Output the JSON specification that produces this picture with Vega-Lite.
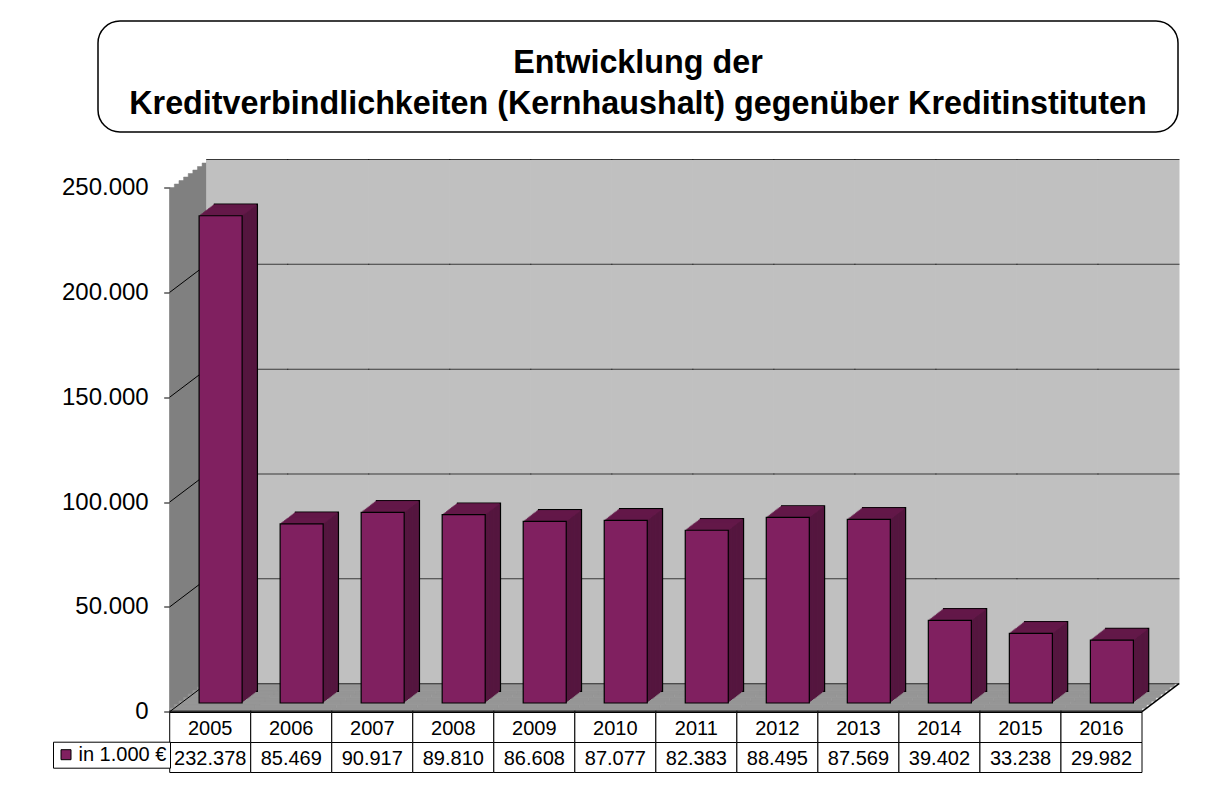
{
  "$schema": "https://vega.github.io/schema/vega-lite/v6.json",
  "background": "white",
  "padding": {"left": 52, "top": 20, "right": 5, "bottom": 5},
  "config": {
    "font": "Liberation Sans",
    "view": {"stroke": null},
    "locale": {"number": {"decimal": ",", "thousands": ".", "grouping": [3], "currency": ["", " €"]}}
  },
  "data": {"values": [
    {"year": "2005", "value": 232378, "series": "in 1.000 €"},
    {"year": "2006", "value": 85469, "series": "in 1.000 €"},
    {"year": "2007", "value": 90917, "series": "in 1.000 €"},
    {"year": "2008", "value": 89810, "series": "in 1.000 €"},
    {"year": "2009", "value": 86608, "series": "in 1.000 €"},
    {"year": "2010", "value": 87077, "series": "in 1.000 €"},
    {"year": "2011", "value": 82383, "series": "in 1.000 €"},
    {"year": "2012", "value": 88495, "series": "in 1.000 €"},
    {"year": "2013", "value": 87569, "series": "in 1.000 €"},
    {"year": "2014", "value": 39402, "series": "in 1.000 €"},
    {"year": "2015", "value": 33238, "series": "in 1.000 €"},
    {"year": "2016", "value": 29982, "series": "in 1.000 €"}
  ]},
  "spacing": 55.5,
  "bounds": "flush",
  "vconcat": [
    {
      "width": 1080,
      "height": 111,
      "view": {"stroke": "black", "strokeWidth": 1.5, "cornerRadius": 22, "fill": "white"},
      "data": {"values": [{"t": ["Entwicklung der", "Kreditverbindlichkeiten (Kernhaushalt) gegenüber Kreditinstituten"]}]},
      "mark": {"type": "text", "fontSize": 32.3, "fontWeight": "bold", "lineHeight": 41, "baseline": "middle", "align": "center", "dy": -13.5, "color": "black"},
      "encoding": {"text": {"field": "t"}}
    },
    {
      "spacing": 0,
      "bounds": "flush",
      "vconcat": [
        {
          "width": 1044,
          "height": 524.2,
          "encoding": {
            "x": {"field": "year", "type": "nominal", "axis": null,
                  "scale": {"domain": ["2005","2006","2007","2008","2009","2010","2011","2012","2013","2014","2015","2016"], "paddingInner": 0, "paddingOuter": 0.4425, "align": 1}}
          },
          "layer": [
            {"transform": [{"filter": "datum.year == '2005'"}], "mark": {"type": "rect", "fill": "#808080", "stroke": "#808080", "strokeWidth": 0.5, "xOffset": 0, "yOffset": 0, "y2Offset": 0}, "encoding": {"y": {"datum": 0, "type": "quantitative"}, "y2": {"datum": 250000}}},
            {"transform": [{"filter": "datum.year == '2005'"}], "mark": {"type": "rect", "fill": "#808080", "stroke": "#808080", "strokeWidth": 0.5, "xOffset": 4.625, "yOffset": -3.5, "y2Offset": -3.5}, "encoding": {"y": {"datum": 0, "type": "quantitative"}, "y2": {"datum": 250000}}},
            {"transform": [{"filter": "datum.year == '2005'"}], "mark": {"type": "rect", "fill": "#808080", "stroke": "#808080", "strokeWidth": 0.5, "xOffset": 9.25, "yOffset": -7, "y2Offset": -7}, "encoding": {"y": {"datum": 0, "type": "quantitative"}, "y2": {"datum": 250000}}},
            {"transform": [{"filter": "datum.year == '2005'"}], "mark": {"type": "rect", "fill": "#808080", "stroke": "#808080", "strokeWidth": 0.5, "xOffset": 13.875, "yOffset": -10.5, "y2Offset": -10.5}, "encoding": {"y": {"datum": 0, "type": "quantitative"}, "y2": {"datum": 250000}}},
            {"transform": [{"filter": "datum.year == '2005'"}], "mark": {"type": "rect", "fill": "#808080", "stroke": "#808080", "strokeWidth": 0.5, "xOffset": 18.5, "yOffset": -14, "y2Offset": -14}, "encoding": {"y": {"datum": 0, "type": "quantitative"}, "y2": {"datum": 250000}}},
            {"transform": [{"filter": "datum.year == '2005'"}], "mark": {"type": "rect", "fill": "#808080", "stroke": "#808080", "strokeWidth": 0.5, "xOffset": 23.125, "yOffset": -17.5, "y2Offset": -17.5}, "encoding": {"y": {"datum": 0, "type": "quantitative"}, "y2": {"datum": 250000}}},
            {"transform": [{"filter": "datum.year == '2005'"}], "mark": {"type": "rect", "fill": "#808080", "stroke": "#808080", "strokeWidth": 0.5, "xOffset": 27.75, "yOffset": -21, "y2Offset": -21}, "encoding": {"y": {"datum": 0, "type": "quantitative"}, "y2": {"datum": 250000}}},
            {"transform": [{"filter": "datum.year == '2005'"}], "mark": {"type": "rect", "fill": "#808080", "stroke": "#808080", "strokeWidth": 0.5, "xOffset": 32.375, "yOffset": -24.5, "y2Offset": -24.5}, "encoding": {"y": {"datum": 0, "type": "quantitative"}, "y2": {"datum": 250000}}},
            {"transform": [{"filter": "datum.year == '2005'"}], "mark": {"type": "rect", "fill": "#808080", "stroke": "#808080", "strokeWidth": 0.5, "xOffset": 37, "yOffset": -28, "y2Offset": -28}, "encoding": {"y": {"datum": 0, "type": "quantitative"}, "y2": {"datum": 250000}}},

            {"mark": {"type": "rect", "fill": "#c0c0c0", "stroke": "#c0c0c0", "strokeWidth": 1, "xOffset": 37, "yOffset": -28, "y2Offset": -28}, "encoding": {"y": {"datum": 0, "type": "quantitative"}, "y2": {"datum": 250000}}},

            {"mark": {"type": "rect", "fill": "#969696", "stroke": "#969696", "strokeWidth": 0.6, "xOffset": 0, "yOffset": 0, "y2Offset": 0}, "encoding": {"y": {"datum": 0, "type": "quantitative"}, "y2": {"datum": 1750}}},
            {"mark": {"type": "rect", "fill": "#969696", "stroke": "#969696", "strokeWidth": 0.6, "xOffset": 4.625, "yOffset": -3.5, "y2Offset": -3.5}, "encoding": {"y": {"datum": 0, "type": "quantitative"}, "y2": {"datum": 1750}}},
            {"mark": {"type": "rect", "fill": "#969696", "stroke": "#969696", "strokeWidth": 0.6, "xOffset": 9.25, "yOffset": -7, "y2Offset": -7}, "encoding": {"y": {"datum": 0, "type": "quantitative"}, "y2": {"datum": 1750}}},
            {"mark": {"type": "rect", "fill": "#969696", "stroke": "#969696", "strokeWidth": 0.6, "xOffset": 13.875, "yOffset": -10.5, "y2Offset": -10.5}, "encoding": {"y": {"datum": 0, "type": "quantitative"}, "y2": {"datum": 1750}}},
            {"mark": {"type": "rect", "fill": "#969696", "stroke": "#969696", "strokeWidth": 0.6, "xOffset": 18.5, "yOffset": -14, "y2Offset": -14}, "encoding": {"y": {"datum": 0, "type": "quantitative"}, "y2": {"datum": 1750}}},
            {"mark": {"type": "rect", "fill": "#969696", "stroke": "#969696", "strokeWidth": 0.6, "xOffset": 23.125, "yOffset": -17.5, "y2Offset": -17.5}, "encoding": {"y": {"datum": 0, "type": "quantitative"}, "y2": {"datum": 1750}}},
            {"mark": {"type": "rect", "fill": "#969696", "stroke": "#969696", "strokeWidth": 0.6, "xOffset": 27.75, "yOffset": -21, "y2Offset": -21}, "encoding": {"y": {"datum": 0, "type": "quantitative"}, "y2": {"datum": 1750}}},
            {"mark": {"type": "rect", "fill": "#969696", "stroke": "#969696", "strokeWidth": 0.6, "xOffset": 32.375, "yOffset": -24.5, "y2Offset": -24.5}, "encoding": {"y": {"datum": 0, "type": "quantitative"}, "y2": {"datum": 1750}}},

            {"mark": {"type": "tick", "orient": "horizontal", "size": 82, "thickness": 1, "color": "black", "xOffset": 37, "yOffset": -28}, "encoding": {"y": {"datum": 0, "type": "quantitative"}}},
            {"mark": {"type": "tick", "orient": "horizontal", "size": 82, "thickness": 1, "color": "black", "xOffset": 37, "yOffset": -28}, "encoding": {"y": {"datum": 50000, "type": "quantitative"}}},
            {"mark": {"type": "tick", "orient": "horizontal", "size": 82, "thickness": 1, "color": "black", "xOffset": 37, "yOffset": -28}, "encoding": {"y": {"datum": 100000, "type": "quantitative"}}},
            {"mark": {"type": "tick", "orient": "horizontal", "size": 82, "thickness": 1, "color": "black", "xOffset": 37, "yOffset": -28}, "encoding": {"y": {"datum": 150000, "type": "quantitative"}}},
            {"mark": {"type": "tick", "orient": "horizontal", "size": 82, "thickness": 1, "color": "black", "xOffset": 37, "yOffset": -28}, "encoding": {"y": {"datum": 200000, "type": "quantitative"}}},
            {"mark": {"type": "tick", "orient": "horizontal", "size": 82, "thickness": 1.2, "color": "black", "xOffset": 37, "yOffset": -28}, "encoding": {"y": {"datum": 250000, "type": "quantitative"}}},

            {"transform": [{"filter": "datum.year == '2005'"}], "mark": {"type": "rule", "color": "black", "strokeWidth": 1, "xOffset": -40.5, "x2Offset": -3.5, "y2Offset": -28}, "encoding": {"x2": {"field": "year"}, "y": {"datum": 0, "type": "quantitative"}, "y2": {"datum": 0}}},
            {"transform": [{"filter": "datum.year == '2005'"}], "mark": {"type": "rule", "color": "black", "strokeWidth": 1, "xOffset": -40.5, "x2Offset": -3.5, "y2Offset": -28}, "encoding": {"x2": {"field": "year"}, "y": {"datum": 50000, "type": "quantitative"}, "y2": {"datum": 50000}}},
            {"transform": [{"filter": "datum.year == '2005'"}], "mark": {"type": "rule", "color": "black", "strokeWidth": 1, "xOffset": -40.5, "x2Offset": -3.5, "y2Offset": -28}, "encoding": {"x2": {"field": "year"}, "y": {"datum": 100000, "type": "quantitative"}, "y2": {"datum": 100000}}},
            {"transform": [{"filter": "datum.year == '2005'"}], "mark": {"type": "rule", "color": "black", "strokeWidth": 1, "xOffset": -40.5, "x2Offset": -3.5, "y2Offset": -28}, "encoding": {"x2": {"field": "year"}, "y": {"datum": 150000, "type": "quantitative"}, "y2": {"datum": 150000}}},
            {"transform": [{"filter": "datum.year == '2005'"}], "mark": {"type": "rule", "color": "black", "strokeWidth": 1, "xOffset": -40.5, "x2Offset": -3.5, "y2Offset": -28}, "encoding": {"x2": {"field": "year"}, "y": {"datum": 200000, "type": "quantitative"}, "y2": {"datum": 200000}}},
            {"transform": [{"filter": "datum.year == '2016'"}], "mark": {"type": "rule", "color": "black", "strokeWidth": 1.5, "xOffset": 40.5, "x2Offset": 77.5, "y2Offset": -28}, "encoding": {"x2": {"field": "year"}, "y": {"datum": 0, "type": "quantitative"}, "y2": {"datum": 0}}},

            {"mark": {"type": "tick", "orient": "horizontal", "size": 82, "thickness": 2.5, "color": "black"}, "encoding": {"y": {"datum": 0, "type": "quantitative"}}},

            {"mark": {"type": "bar", "width": {"band": 0.531}, "fill": "#55163F", "stroke": "black", "strokeWidth": 1.2, "xOffset": 25.7, "yOffset": -20.4}, "encoding": {"y": {"field": "value", "type": "quantitative"}}},
            {"mark": {"type": "bar", "width": {"band": 0.531}, "fill": "#55163F", "xOffset": 24.425, "yOffset": -19.425}, "encoding": {"y": {"field": "value", "type": "quantitative"}}},
            {"mark": {"type": "bar", "width": {"band": 0.531}, "fill": "#55163F", "xOffset": 23.15, "yOffset": -18.45}, "encoding": {"y": {"field": "value", "type": "quantitative"}}},
            {"mark": {"type": "bar", "width": {"band": 0.531}, "fill": "#55163F", "xOffset": 21.875, "yOffset": -17.475}, "encoding": {"y": {"field": "value", "type": "quantitative"}}},
            {"mark": {"type": "bar", "width": {"band": 0.531}, "fill": "#55163F", "xOffset": 20.6, "yOffset": -16.5}, "encoding": {"y": {"field": "value", "type": "quantitative"}}},
            {"mark": {"type": "bar", "width": {"band": 0.531}, "fill": "#55163F", "xOffset": 19.325, "yOffset": -15.525}, "encoding": {"y": {"field": "value", "type": "quantitative"}}},
            {"mark": {"type": "bar", "width": {"band": 0.531}, "fill": "#55163F", "xOffset": 18.05, "yOffset": -14.55}, "encoding": {"y": {"field": "value", "type": "quantitative"}}},
            {"mark": {"type": "bar", "width": {"band": 0.531}, "fill": "#55163F", "xOffset": 16.775, "yOffset": -13.575}, "encoding": {"y": {"field": "value", "type": "quantitative"}}},
            {"mark": {"type": "bar", "width": {"band": 0.531}, "fill": "#55163F", "xOffset": 15.5, "yOffset": -12.6}, "encoding": {"y": {"field": "value", "type": "quantitative"}}},
            {"mark": {"type": "bar", "width": {"band": 0.531}, "fill": "#55163F", "xOffset": 14.225, "yOffset": -11.625}, "encoding": {"y": {"field": "value", "type": "quantitative"}}},
            {"mark": {"type": "bar", "width": {"band": 0.531}, "fill": "#55163F", "xOffset": 12.95, "yOffset": -10.65}, "encoding": {"y": {"field": "value", "type": "quantitative"}}},
            {"mark": {"type": "bar", "width": {"band": 0.531}, "fill": "#55163F", "xOffset": 11.675, "yOffset": -9.675}, "encoding": {"y": {"field": "value", "type": "quantitative"}}},

            {"mark": {"type": "tick", "orient": "horizontal", "size": 43, "thickness": 1.6, "color": "#67194C", "xOffset": 24.425, "yOffset": -19.425}, "encoding": {"y": {"field": "value", "type": "quantitative"}}},
            {"mark": {"type": "tick", "orient": "horizontal", "size": 43, "thickness": 1.6, "color": "#67194C", "xOffset": 23.15, "yOffset": -18.45}, "encoding": {"y": {"field": "value", "type": "quantitative"}}},
            {"mark": {"type": "tick", "orient": "horizontal", "size": 43, "thickness": 1.6, "color": "#67194C", "xOffset": 21.875, "yOffset": -17.475}, "encoding": {"y": {"field": "value", "type": "quantitative"}}},
            {"mark": {"type": "tick", "orient": "horizontal", "size": 43, "thickness": 1.6, "color": "#67194C", "xOffset": 20.6, "yOffset": -16.5}, "encoding": {"y": {"field": "value", "type": "quantitative"}}},
            {"mark": {"type": "tick", "orient": "horizontal", "size": 43, "thickness": 1.6, "color": "#67194C", "xOffset": 19.325, "yOffset": -15.525}, "encoding": {"y": {"field": "value", "type": "quantitative"}}},
            {"mark": {"type": "tick", "orient": "horizontal", "size": 43, "thickness": 1.6, "color": "#67194C", "xOffset": 18.05, "yOffset": -14.55}, "encoding": {"y": {"field": "value", "type": "quantitative"}}},
            {"mark": {"type": "tick", "orient": "horizontal", "size": 43, "thickness": 1.6, "color": "#67194C", "xOffset": 16.775, "yOffset": -13.575}, "encoding": {"y": {"field": "value", "type": "quantitative"}}},
            {"mark": {"type": "tick", "orient": "horizontal", "size": 43, "thickness": 1.6, "color": "#67194C", "xOffset": 15.5, "yOffset": -12.6}, "encoding": {"y": {"field": "value", "type": "quantitative"}}},
            {"mark": {"type": "tick", "orient": "horizontal", "size": 43, "thickness": 1.6, "color": "#67194C", "xOffset": 14.225, "yOffset": -11.625}, "encoding": {"y": {"field": "value", "type": "quantitative"}}},
            {"mark": {"type": "tick", "orient": "horizontal", "size": 43, "thickness": 1.6, "color": "#67194C", "xOffset": 12.95, "yOffset": -10.65}, "encoding": {"y": {"field": "value", "type": "quantitative"}}},
            {"mark": {"type": "tick", "orient": "horizontal", "size": 43, "thickness": 1.6, "color": "#67194C", "xOffset": 11.675, "yOffset": -9.675}, "encoding": {"y": {"field": "value", "type": "quantitative"}}},

            {"mark": {"type": "bar", "width": {"band": 0.531}, "stroke": "black", "strokeWidth": 1.2, "xOffset": 10.4, "yOffset": -8.7},
             "encoding": {
               "y": {"field": "value", "type": "quantitative",
                     "scale": {"domain": [0, 250000], "nice": false},
                     "axis": {"title": null, "values": [0, 50000, 100000, 150000, 200000, 250000], "labelExpr": "format(datum.value, ',')", "offset": -71.7, "tickSize": 6, "labelPadding": 15.5, "labelFontSize": 24, "labelColor": "black", "tickColor": "black", "domainColor": "black", "grid": false}},
               "color": {"field": "series", "type": "nominal",
                         "scale": {"domain": ["in 1.000 €"], "range": ["#802060"]},
                         "legend": {"title": null, "orient": "none", "legendX": -45, "legendY": 720.7, "strokeColor": "black", "padding": 3, "symbolType": "square", "symbolSize": 100, "symbolStrokeColor": "black", "symbolStrokeWidth": 1, "labelFontSize": 20, "labelColor": "black", "labelOffset": 2.5, "fillColor": "white"}}
             }}
          ]
        },
        {
          "width": 1044,
          "height": 60,
          "encoding": {
            "x": {"field": "year", "type": "nominal", "axis": null,
                  "scale": {"domain": ["2005","2006","2007","2008","2009","2010","2011","2012","2013","2014","2015","2016"], "paddingInner": 0, "paddingOuter": 0.4425, "align": 1}}
          },
          "layer": [
            {"mark": {"type": "rect", "fill": "white", "stroke": "black", "strokeWidth": 1}, "encoding": {"y": {"datum": "year", "type": "nominal", "axis": null, "scale": {"type": "band", "domain": ["year", "value"], "paddingInner": 0, "paddingOuter": 0}}}},
            {"mark": {"type": "rect", "fill": "white", "stroke": "black", "strokeWidth": 1}, "encoding": {"y": {"datum": "value", "type": "nominal", "axis": null, "scale": {"type": "band", "domain": ["year", "value"], "paddingInner": 0, "paddingOuter": 0}}}},
            {"mark": {"type": "text", "fontSize": 20, "baseline": "middle", "color": "black", "dy": 1}, "encoding": {"y": {"datum": "year", "type": "nominal", "axis": null, "scale": {"type": "band", "domain": ["year", "value"], "paddingInner": 0, "paddingOuter": 0}}, "text": {"field": "year"}}},
            {"mark": {"type": "text", "fontSize": 20, "baseline": "middle", "color": "black", "dy": 1}, "encoding": {"y": {"datum": "value", "type": "nominal", "axis": null, "scale": {"type": "band", "domain": ["year", "value"], "paddingInner": 0, "paddingOuter": 0}}, "text": {"field": "value", "type": "quantitative", "format": ","}}}
          ]
        }
      ]
    }
  ]
}
